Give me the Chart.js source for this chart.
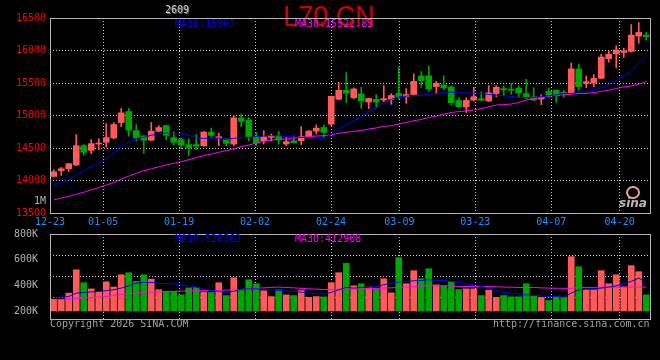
<!DOCTYPE html>
<html>
<head>
<meta charset="utf-8">
<script src="https://cdn.jsdelivr.net/npm/chart.js@4/dist/chart.umd.min.js"></script>
<style>
html, body { margin: 0; background: #000; }
#wrap { position: relative; width: 660px; height: 360px; overflow: hidden; font-family: "DejaVu Sans Mono", monospace; font-size: 10px; }
canvas { position: absolute; left: 0; top: 0; }
.t { position: absolute; white-space: nowrap; line-height: 1; }
</style>
</head>
<body>
<div id="wrap">
  <div class="t" style="left:283px;top:1px;font-family:'Liberation Sans',sans-serif;font-size:30px;color:#cc0000;transform:scaleX(0.9);transform-origin:left top;">L70 CN</div>
  <canvas id="price" width="660" height="360"></canvas>
  <canvas id="vol" width="660" height="360"></canvas>
  <div class="t" style="left:165px;top:5px;color:#d0d0d0;text-shadow:1px 1px 0 #666;">2609</div>
  <div class="t" style="left:175px;top:19px;color:#0000ff;">MA10:15907</div>
  <div class="t" style="left:295px;top:19px;color:#ff00ff;">MA30:15522.83</div>
  <div class="t" style="left:34px;top:196px;color:#b0b0b0;">1M</div>
  <div class="t" style="left:175px;top:234px;color:#0000ff;">MA10:528362</div>
  <div class="t" style="left:295px;top:234px;color:#ff00ff;">MA30:412908</div>
  <div class="t" style="left:50px;top:319px;color:#a0a0a0;">Copyright 2026 SINA.COM</div>
  <div class="t" style="left:493px;top:319px;color:#a0a0a0;">http://finance.sina.com.cn</div>
  <div style="position:absolute;left:626px;top:186px;width:10px;height:9px;border:2px solid #f0a0a0;border-radius:50%;"></div>
  <div class="t" style="left:619px;top:197px;color:#b8b8b8;font-family:'DejaVu Sans',sans-serif;font-size:12px;font-weight:bold;font-style:italic;">sina</div>
</div>
<script>
// trading days shown on the chart
const dates = ['12-23','12-24','12-25','12-26','12-29','12-30','12-31',
  '01-05','01-06','01-07','01-08','01-09','01-12','01-13','01-14','01-15','01-16',
  '01-19','01-20','01-21','01-22','01-23','01-26','01-27','01-28','01-29','01-30',
  '02-02','02-03','02-04','02-05','02-06','02-09','02-10','02-11','02-12','02-13',
  '02-24','02-25','02-26','02-27','03-02','03-03','03-04','03-05','03-06',
  '03-09','03-10','03-11','03-12','03-13','03-16','03-17','03-18','03-19','03-20',
  '03-23','03-24','03-25','03-26','03-27','03-30','03-31','04-01','04-02','04-03',
  '04-07','04-08','04-09','04-10','04-13','04-14','04-15','04-16','04-17',
  '04-20','04-21','04-22','04-23','04-24'];

const opens = [14063,14150,14181,14238,14536,14464,14562,14588,14655,14892,
  15062,14768,14686,14619,14758,14845,14660,14629,14552,14552,
  14536,14745,14653,14628,14561,14964,14929,14674,14612,14663,
  14684,14561,14612,14612,14674,14760,14816,14867,15250,15388,
  15273,15333,15207,15247,15237,15247,15338,15288,15323,15611,
  15611,15444,15470,15439,15232,15131,15237,15258,15222,15338,
  15414,15404,15419,15338,15288,15253,15369,15389,15354,15338,
  15717,15495,15495,15571,15874,15949,15970,15985,16222,16237];
const highs = [14166,14202,14265,14706,14552,14629,14645,14876,14892,15108,
  15108,14861,14690,14892,14845,14850,14748,14655,14645,14706,
  14755,14806,14730,14643,15000,15020,14969,14740,14765,14714,
  14755,14663,14684,14827,14770,14852,14852,15300,15510,15660,
  15424,15434,15268,15323,15460,15338,15737,15414,15641,15677,
  15763,15525,15611,15460,15273,15273,15434,15364,15460,15460,
  15455,15495,15455,15556,15429,15318,15419,15395,15389,15808,
  15793,15606,15631,15944,15995,16071,16035,16399,16429,16278];
const lows = [14052,14078,14140,14228,14387,14413,14475,14511,14640,14830,
  14681,14614,14418,14614,14748,14624,14542,14490,14387,14475,
  14526,14663,14536,14536,14536,14827,14612,14536,14561,14612,
  14561,14536,14577,14551,14663,14714,14663,14842,15240,15199,
  15258,15111,15106,15121,15212,15172,15247,15187,15313,15434,
  15374,15333,15399,15157,15121,15045,15222,15222,15212,15288,
  15303,15328,15278,15253,15227,15167,15278,15202,15278,15328,
  15389,15429,15444,15566,15818,15732,15894,15975,16111,16162];
const closes = [14135,14181,14258,14536,14433,14567,14577,14660,14861,15041,
  14773,14655,14619,14758,14815,14696,14588,14542,14500,14526,
  14745,14694,14674,14572,14964,14908,14674,14577,14674,14689,
  14623,14597,14580,14674,14760,14806,14740,15296,15388,15342,
  15409,15222,15263,15207,15258,15308,15283,15323,15525,15535,
  15409,15495,15424,15197,15136,15232,15288,15237,15348,15434,
  15394,15389,15343,15278,15237,15278,15318,15303,15338,15717,
  15444,15520,15571,15899,15944,16010,15995,16237,16278,16212];

const ma10 = [13934,13975,14011,14088,14150,14217,14269,14336,14423,14526,
  14588,14645,14665,14696,14717,14732,14722,14717,14696,14655,
  14648,14653,14653,14633,14648,14663,14663,14674,14684,14689,
  14689,14674,14674,14663,14663,14653,14648,14714,14791,14867,
  14919,14980,15061,15121,15197,15248,15288,15298,15308,15313,
  15323,15338,15359,15359,15348,15348,15348,15338,15323,15313,
  15303,15293,15278,15278,15278,15288,15303,15318,15338,15338,
  15354,15369,15389,15429,15480,15540,15606,15682,15800,15907];
const ma30 = [13700,13730,13757,13790,13820,13855,13890,13930,13970,14020,
  14068,14110,14150,14180,14210,14240,14265,14290,14320,14350,
  14383,14408,14434,14459,14485,14521,14546,14577,14602,14623,
  14633,14638,14653,14663,14674,14684,14689,14704,14725,14740,
  14758,14768,14793,14808,14833,14843,14869,14894,14919,14939,
  14970,14990,15020,15045,15061,15071,15086,15106,15131,15162,
  15167,15177,15202,15237,15263,15278,15293,15313,15318,15328,
  15338,15340,15354,15369,15389,15414,15439,15455,15480,15523];

// volume in thousands of lots
const volumes = [291,291,339,521,420,372,352,427,386,482,
  498,430,482,448,365,352,352,325,380,383,
  344,344,420,320,459,359,443,412,357,312,
  365,325,320,359,305,312,310,420,498,571,
  396,412,386,370,451,341,616,412,514,451,
  529,404,396,430,367,372,372,320,362,305,
  320,310,310,412,320,305,281,312,305,623,
  545,365,365,514,412,482,386,553,506,325];
const volMa10 = [305,308,312,339,344,348,352,358,365,378,
  396,417,422,422,417,412,412,404,396,386,
  370,359,352,346,352,370,372,372,370,365,
  359,357,352,346,339,333,333,344,365,383,
  378,383,383,391,404,417,425,430,435,438,
  443,438,438,430,422,412,404,391,378,359,
  344,339,333,325,320,318,312,312,307,339,
  365,372,372,378,386,396,412,430,456,420];
const volMa30 = [287,290,294,297,300,303,308,312,320,328,
  334,340,346,348,350,352,353,355,356,357,
  358,359,361,363,365,368,372,376,380,383,
  386,383,380,376,372,370,368,366,365,372,
  370,372,372,375,378,380,383,387,391,393,
  396,396,396,393,391,391,391,391,391,388,
  386,385,383,383,383,380,378,377,376,376,
  383,383,383,386,386,386,386,386,386,386];
const volBase = 200;

const tickDates = ['12-23','01-05','01-19','02-02','02-24','03-09','03-23','04-07','04-20'];
const priceTicks = [13500,14000,14500,15000,15500,16000,16500];
const volTicks = [200,400,600,800];

const FONT = { family: 'DejaVu Sans Mono', size: 10 };
const GRID = '#c8c8c8';
const RED = '#ff5959', GREEN = '#00a600';
const n = dates.length;
const colors = closes.map((c, i) => c >= opens[i] ? RED : GREEN);
const tickIdx = tickDates.map(d => dates.indexOf(d));
// sina spreads the date lines over n-1 steps, a bit wider than the candle slots
const gridPos = i => i * n / (n - 1) - 0.5;

const frame = {
  id: 'frame',
  afterDatasetsDraw(c) {
    const a = c.chartArea, ctx = c.ctx;
    ctx.save();
    ctx.strokeStyle = '#b4b4b4';
    ctx.lineWidth = 1;
    ctx.strokeRect(Math.round(a.left) + 0.5, Math.round(a.top) + 0.5,
      Math.round(a.right - a.left), Math.round(a.bottom - a.top));
    ctx.restore();
  }
};

function xScale(labels) {
  return {
    type: 'linear', min: -0.5, max: n - 0.5, offset: false,
    afterBuildTicks: s => { s.ticks = tickIdx.map(i => ({ value: gridPos(i) })); },
    ticks: { display: labels, color: '#1e90ff', font: FONT, padding: 3, maxRotation: 0, autoSkip: false,
      callback: (v, k) => tickDates[k] },
    grid: { color: GRID, offset: false, drawTicks: false },
    border: { display: false, dash: [1, 2] },
    afterFit: s => { s.height = labels ? 17 : 0; }
  };
}

const common = {
  responsive: false, animation: false, devicePixelRatio: 1, events: [],
  plugins: { legend: { display: false }, tooltip: { enabled: false } }
};

new Chart(document.getElementById('price'), {
  type: 'bar',
  data: {
    datasets: [
      { type: 'line', data: ma10.map((v, i) => ({ x: i, y: v })), borderColor: '#0000ff', borderWidth: 1, pointRadius: 0, order: 0 },
      { type: 'line', data: ma30.map((v, i) => ({ x: i, y: v })), borderColor: '#ff00ff', borderWidth: 1, pointRadius: 0, order: 0 },
      { data: opens.map((o, i) => ({ x: i, y: [o, closes[i]] })), backgroundColor: colors, barThickness: 6, minBarLength: 1, grouped: false, order: 1 },
      { data: lows.map((l, i) => ({ x: i, y: [l, highs[i]] })), backgroundColor: colors, barThickness: 1, grouped: false, order: 2 }
    ]
  },
  options: Object.assign({}, common, {
    layout: { padding: { left: 0, right: 10, top: 18, bottom: 130 } },
    scales: {
      x: xScale(true),
      y: {
        min: 13500, max: 16500,
        afterBuildTicks: s => { s.ticks = priceTicks.map(v => ({ value: v })); },
        ticks: { color: '#ff0000', font: FONT, padding: 4, callback: v => String(v) },
        grid: { color: GRID, drawTicks: false },
        border: { display: false, dash: [1, 2] },
        afterFit: s => { s.width = 50; }
      }
    }
  }),
  plugins: [frame]
});

new Chart(document.getElementById('vol'), {
  type: 'bar',
  data: {
    datasets: [
      { type: 'line', data: volMa10.map((v, i) => ({ x: i, y: v })), borderColor: '#0000ff', borderWidth: 1, pointRadius: 0, order: 0 },
      { type: 'line', data: volMa30.map((v, i) => ({ x: i, y: v })), borderColor: '#ff00ff', borderWidth: 1, pointRadius: 0, order: 0 },
      { data: volumes.map((v, i) => ({ x: i, y: [volBase, v] })), backgroundColor: colors, barThickness: 6, grouped: false, order: 1 }
    ]
  },
  options: Object.assign({}, common, {
    layout: { padding: { left: 0, right: 10, top: 234, bottom: 41 } },
    scales: {
      x: xScale(false),
      y: {
        min: 137, max: 800,
        afterBuildTicks: s => { s.ticks = volTicks.map(v => ({ value: v })); },
        ticks: { color: '#b0b0b0', font: FONT, padding: 4, callback: v => v + 'K' },
        grid: { display: false },
        border: { display: false },
        afterFit: s => { s.width = 50; }
      },
      yg: {
        position: 'left', min: 137, max: 800,
        afterBuildTicks: s => { const st = (s.max - s.min) / 4; s.ticks = [1, 2, 3].map(k => ({ value: s.min + k * st })); },
        ticks: { display: false },
        grid: { color: GRID, drawTicks: false },
        border: { display: false, dash: [1, 2] },
        afterFit: s => { s.width = 0; }
      }
    }
  }),
  plugins: [frame]
});
</script>
</body>
</html>
